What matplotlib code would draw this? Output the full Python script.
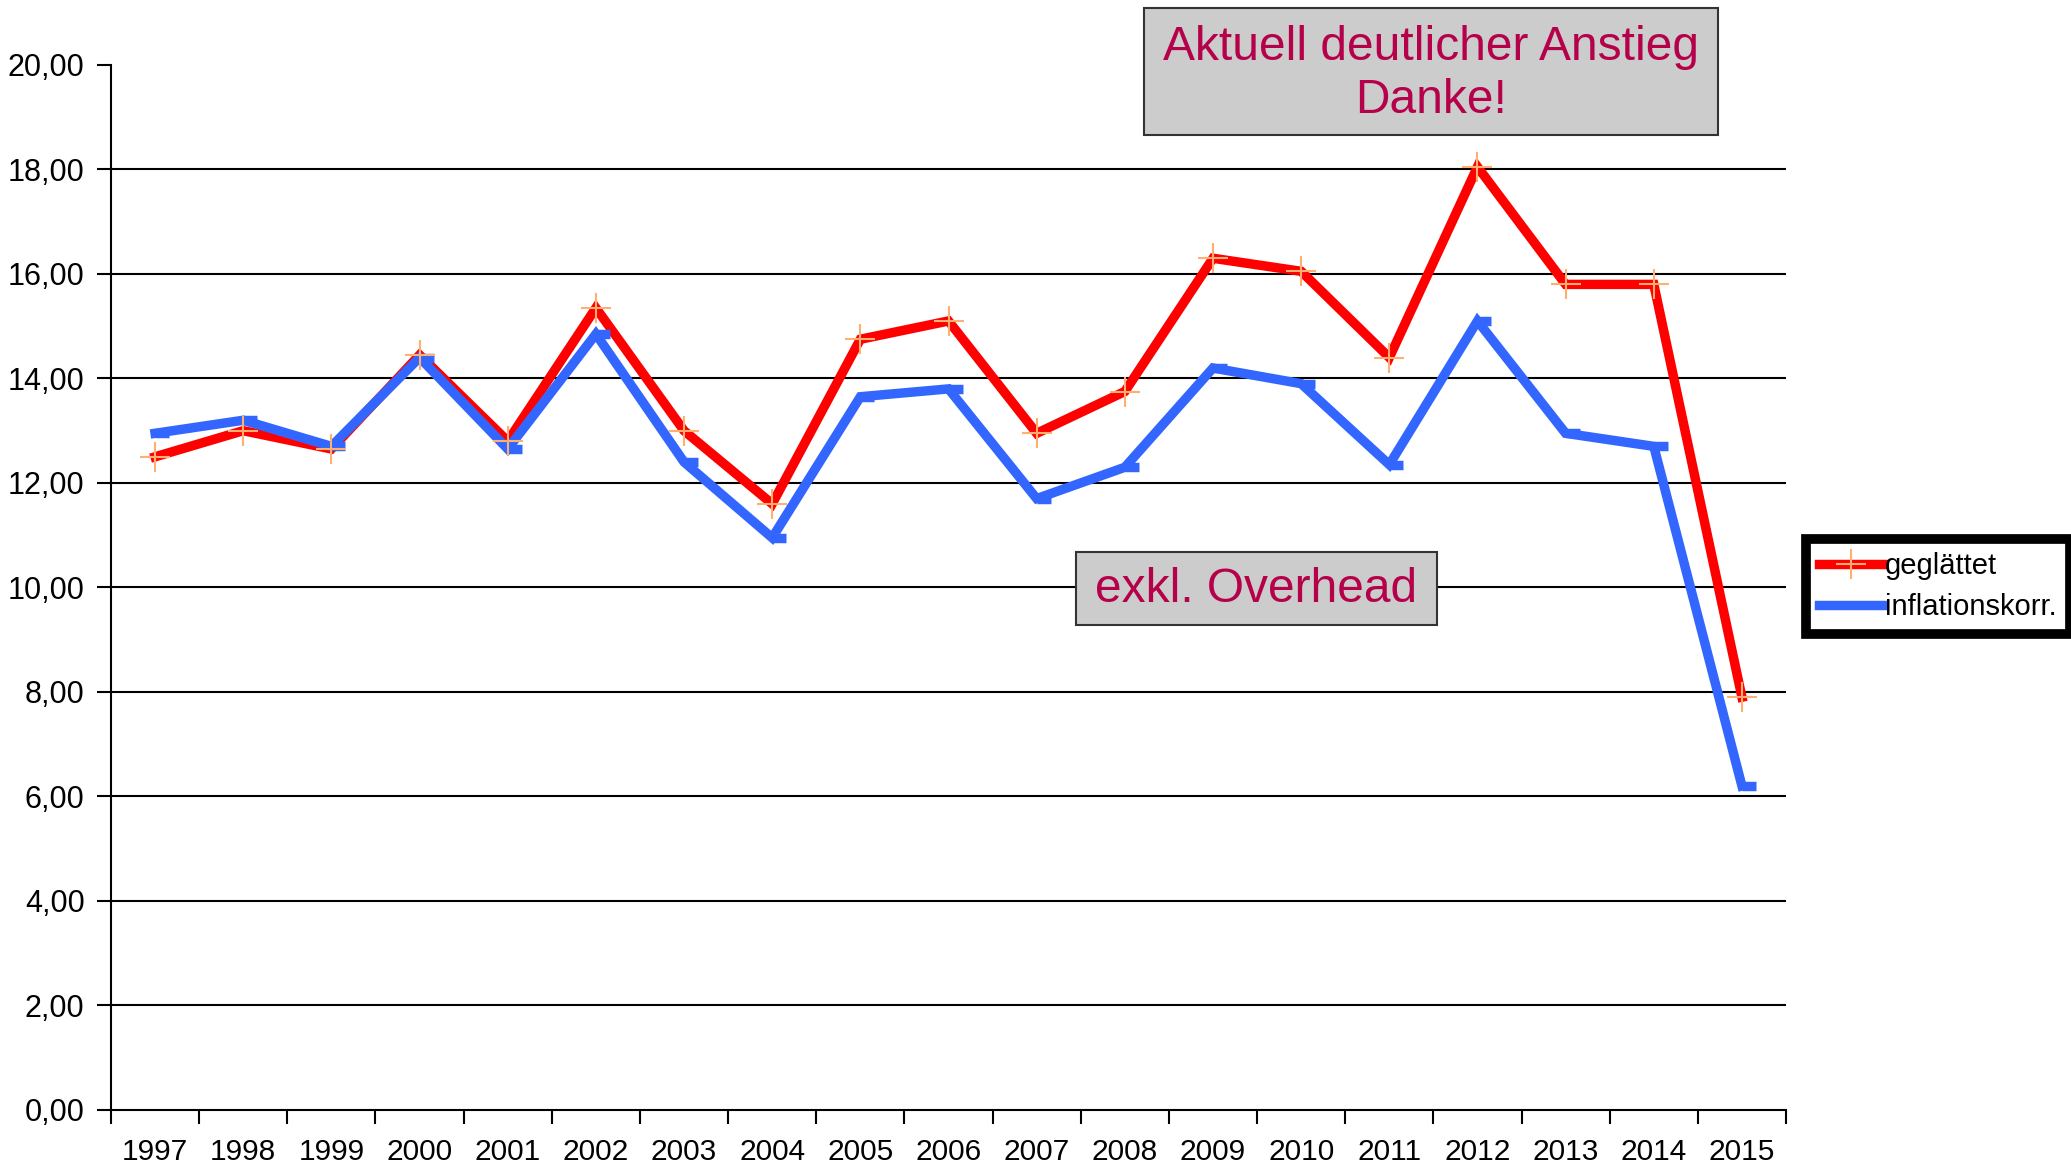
import matplotlib
matplotlib.use("Agg")
import matplotlib.pyplot as plt
from matplotlib.patches import Rectangle
from matplotlib.path import Path
import numpy as np

plt.rcParams['font.family'] = ['Liberation Sans', 'DejaVu Sans']

# Data
years = ['1997', '1998', '1999', '2000', '2001', '2002', '2003', '2004', '2005', '2006',
         '2007', '2008', '2009', '2010', '2011', '2012', '2013', '2014', '2015']
geglaettet = [12.5, 13.0, 12.65, 14.45, 12.8, 15.35, 13.0, 11.6, 14.75, 15.1,
              12.95, 13.75, 16.3, 16.05, 14.4, 18.05, 15.8, 15.8, 7.9]
inflationskorr = [12.95, 13.2, 12.7, 14.4, 12.65, 14.85, 12.4, 10.95, 13.65, 13.8,
                  11.7, 12.3, 14.2, 13.9, 12.35, 15.1, 12.95, 12.7, 6.2]
y_ticks = [0, 2, 4, 6, 8, 10, 12, 14, 16, 18, 20]

red = '#ff0000'
blue = '#3366ff'
plus_col = '#ffb070'
txt_col = '#b5004a'

fig = plt.figure(figsize=(20.71, 11.68), dpi=100)
ax = fig.add_axes([0.0536, 0.0497, 0.8088, 0.8947])

x = np.arange(len(years))

# dash marker sticking out to the right of the point (Excel style)
dash = Path([(0, 0), (1, 0)], [Path.MOVETO, Path.LINETO])

lw = 6.8
ax.plot(x, geglaettet, color=red, lw=lw, solid_joinstyle='miter', zorder=3)
ax.plot(x, inflationskorr, color=blue, lw=lw, solid_joinstyle='miter', zorder=4,
        marker=dash, markersize=20, markeredgewidth=lw, markeredgecolor=blue)
ax.plot(x, geglaettet, ls='none', marker='+', markersize=22, markeredgewidth=1.5,
        color=plus_col, zorder=5)

ax.set_xlim(-0.5, len(years) - 0.5)
ax.set_ylim(0, 20)

ax.set_yticks(y_ticks)
ax.set_yticklabels([('%.2f' % v).replace('.', ',') for v in y_ticks])
ax.tick_params(axis='y', length=10, width=1.5, labelsize=22, pad=9, colors='black')

ax.set_xticks(x)
ax.set_xticklabels(years)
ax.set_xticks(np.arange(len(years) + 1) - 0.5, minor=True)
ax.tick_params(axis='x', which='major', length=0, labelsize=21.5, pad=20)
ax.tick_params(axis='x', which='minor', length=10, width=1.5)

for v in y_ticks[1:-1]:
    ax.axhline(v, color='black', lw=1.5, zorder=1)

for s in ['top', 'right']:
    ax.spines[s].set_visible(False)
for s in ['left', 'bottom']:
    ax.spines[s].set_linewidth(1.5)

# Legend
leg_red = plt.Line2D([], [], color=red, lw=lw, marker='+', markersize=22,
                     markeredgewidth=1.5, markeredgecolor=plus_col)
leg_blue = plt.Line2D([], [], color=blue, lw=lw)
leg = fig.legend([leg_red, leg_blue], ['geglättet', 'inflationskorr.'],
                 loc='upper left', bbox_to_anchor=(1806 / 2071, 1 - 539 / 1168),
                 fontsize=21, frameon=True, fancybox=False, framealpha=1,
                 handlelength=2.2, handletextpad=0.05, borderpad=0.45,
                 labelspacing=0.45, borderaxespad=0)
leg.get_frame().set_edgecolor('black')
leg.get_frame().set_linewidth(7)

# Annotation boxes
W, H = 2071.0, 1168.0
fig.patches.append(Rectangle((1144 / W, 1 - 135 / H), 574 / W, 127 / H,
                             transform=fig.transFigure, facecolor='#cccccc',
                             edgecolor='#333333', lw=1.5, zorder=6))
fig.text((1144 + 287) / W, 1 - 74 / H, 'Aktuell deutlicher Anstieg\nDanke!',
         ha='center', va='center', fontsize=34.5, color=txt_col,
         linespacing=1.25, zorder=7)

fig.patches.append(Rectangle((1076 / W, 1 - 625 / H), 361 / W, 73 / H,
                             transform=fig.transFigure, facecolor='#cccccc',
                             edgecolor='#333333', lw=1.5, zorder=6))
fig.text((1076 + 180) / W, 1 - 589 / H, 'exkl. Overhead',
         ha='center', va='center', fontsize=34.5, color=txt_col, zorder=7)

fig.savefig('out.png', dpi=100)
